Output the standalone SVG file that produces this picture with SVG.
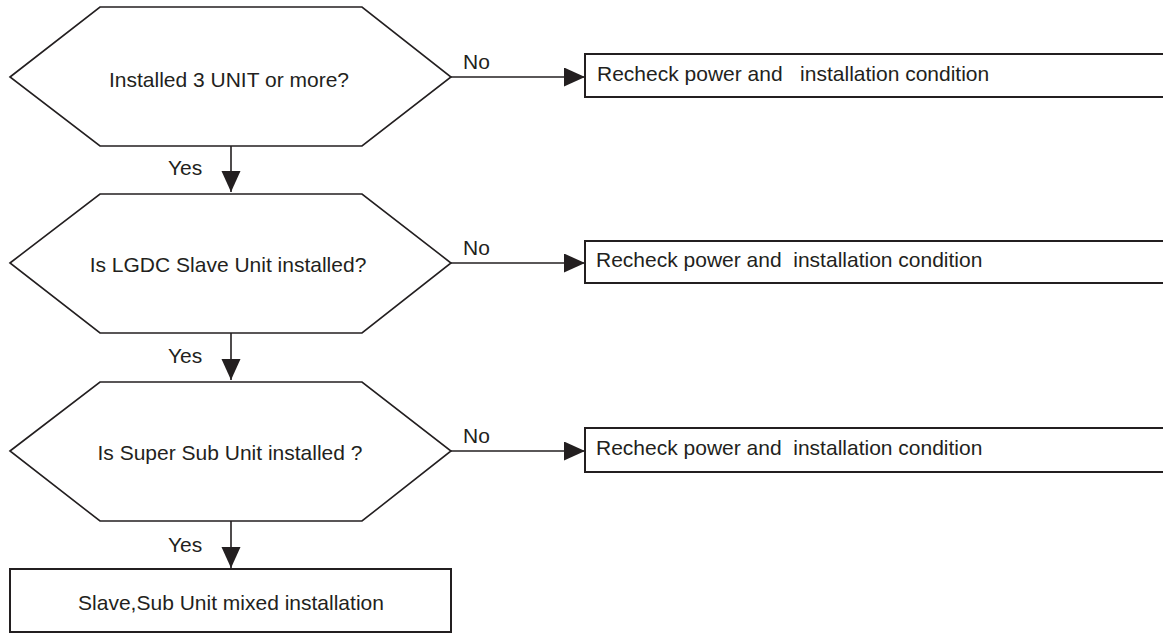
<svg xmlns="http://www.w3.org/2000/svg" width="1163" height="633" viewBox="0 0 1163 633">
  <style>
    .shape { fill: #ffffff; stroke: #231f20; stroke-width: 1.6; }
    .box { fill: #ffffff; stroke: #231f20; stroke-width: 2; }
    .wire { fill: none; stroke: #231f20; stroke-width: 1.6; }
    text { font-family: "Liberation Sans", Arial, sans-serif; font-size: 21px; fill: #231f20; white-space: pre; }
    .mid { text-anchor: middle; }
  </style>
  <defs>
    <marker id="arrow" markerWidth="22" markerHeight="20" refX="21" refY="9.5" orient="auto" markerUnits="userSpaceOnUse">
      <path d="M0,0 L21,9.5 L0,19 Z" fill="#231f20"/>
    </marker>
  </defs>

  <rect width="1163" height="633" fill="#ffffff"/>

  <!-- connectors -->
  <g id="connectors">
    <line class="wire" x1="451" y1="77" x2="585" y2="77" marker-end="url(#arrow)"/>
    <line class="wire" x1="451" y1="263" x2="585" y2="263" marker-end="url(#arrow)"/>
    <line class="wire" x1="451" y1="451" x2="585" y2="451" marker-end="url(#arrow)"/>
    <line class="wire" x1="231" y1="146" x2="231" y2="192" marker-end="url(#arrow)"/>
    <line class="wire" x1="231" y1="333" x2="231" y2="380" marker-end="url(#arrow)"/>
    <line class="wire" x1="231" y1="521" x2="231" y2="568" marker-end="url(#arrow)"/>
    <text x="463" y="69">No</text>
    <text x="463" y="255">No</text>
    <text x="463" y="443">No</text>
    <text x="168" y="175">Yes</text>
    <text x="168" y="363">Yes</text>
    <text x="168" y="552">Yes</text>
  </g>

  <!-- decision: three or more units -->
  <g id="q-units">
    <polygon class="shape" points="10,77 100,7 362,7 451,77 362,146 100,146"/>
    <text class="mid" x="229" y="87">Installed 3 UNIT or more?</text>
  </g>

  <!-- decision: slave unit -->
  <g id="q-slave">
    <polygon class="shape" points="10,263 100,194 362,194 451,263 362,333 100,333"/>
    <text class="mid" x="228" y="272">Is LGDC Slave Unit installed?</text>
  </g>

  <!-- decision: super sub unit -->
  <g id="q-sub">
    <polygon class="shape" points="10,451 100,382 362,382 451,451 362,521 100,521"/>
    <text class="mid" x="230" y="460">Is Super Sub Unit installed ?</text>
  </g>

  <!-- recheck actions -->
  <g id="recheck-1">
    <rect class="box" x="585" y="54" width="600" height="43"/>
    <text x="597" y="81">Recheck power and   installation condition</text>
  </g>
  <g id="recheck-2">
    <rect class="box" x="585" y="241" width="600" height="42"/>
    <text x="596" y="267">Recheck power and  installation condition</text>
  </g>
  <g id="recheck-3">
    <rect class="box" x="585" y="428" width="600" height="44"/>
    <text x="596" y="455">Recheck power and  installation condition</text>
  </g>

  <!-- result -->
  <g id="mixed-install">
    <rect class="box" x="10" y="569" width="441" height="63"/>
    <text class="mid" x="231" y="610">Slave,Sub Unit mixed installation</text>
  </g>
</svg>
